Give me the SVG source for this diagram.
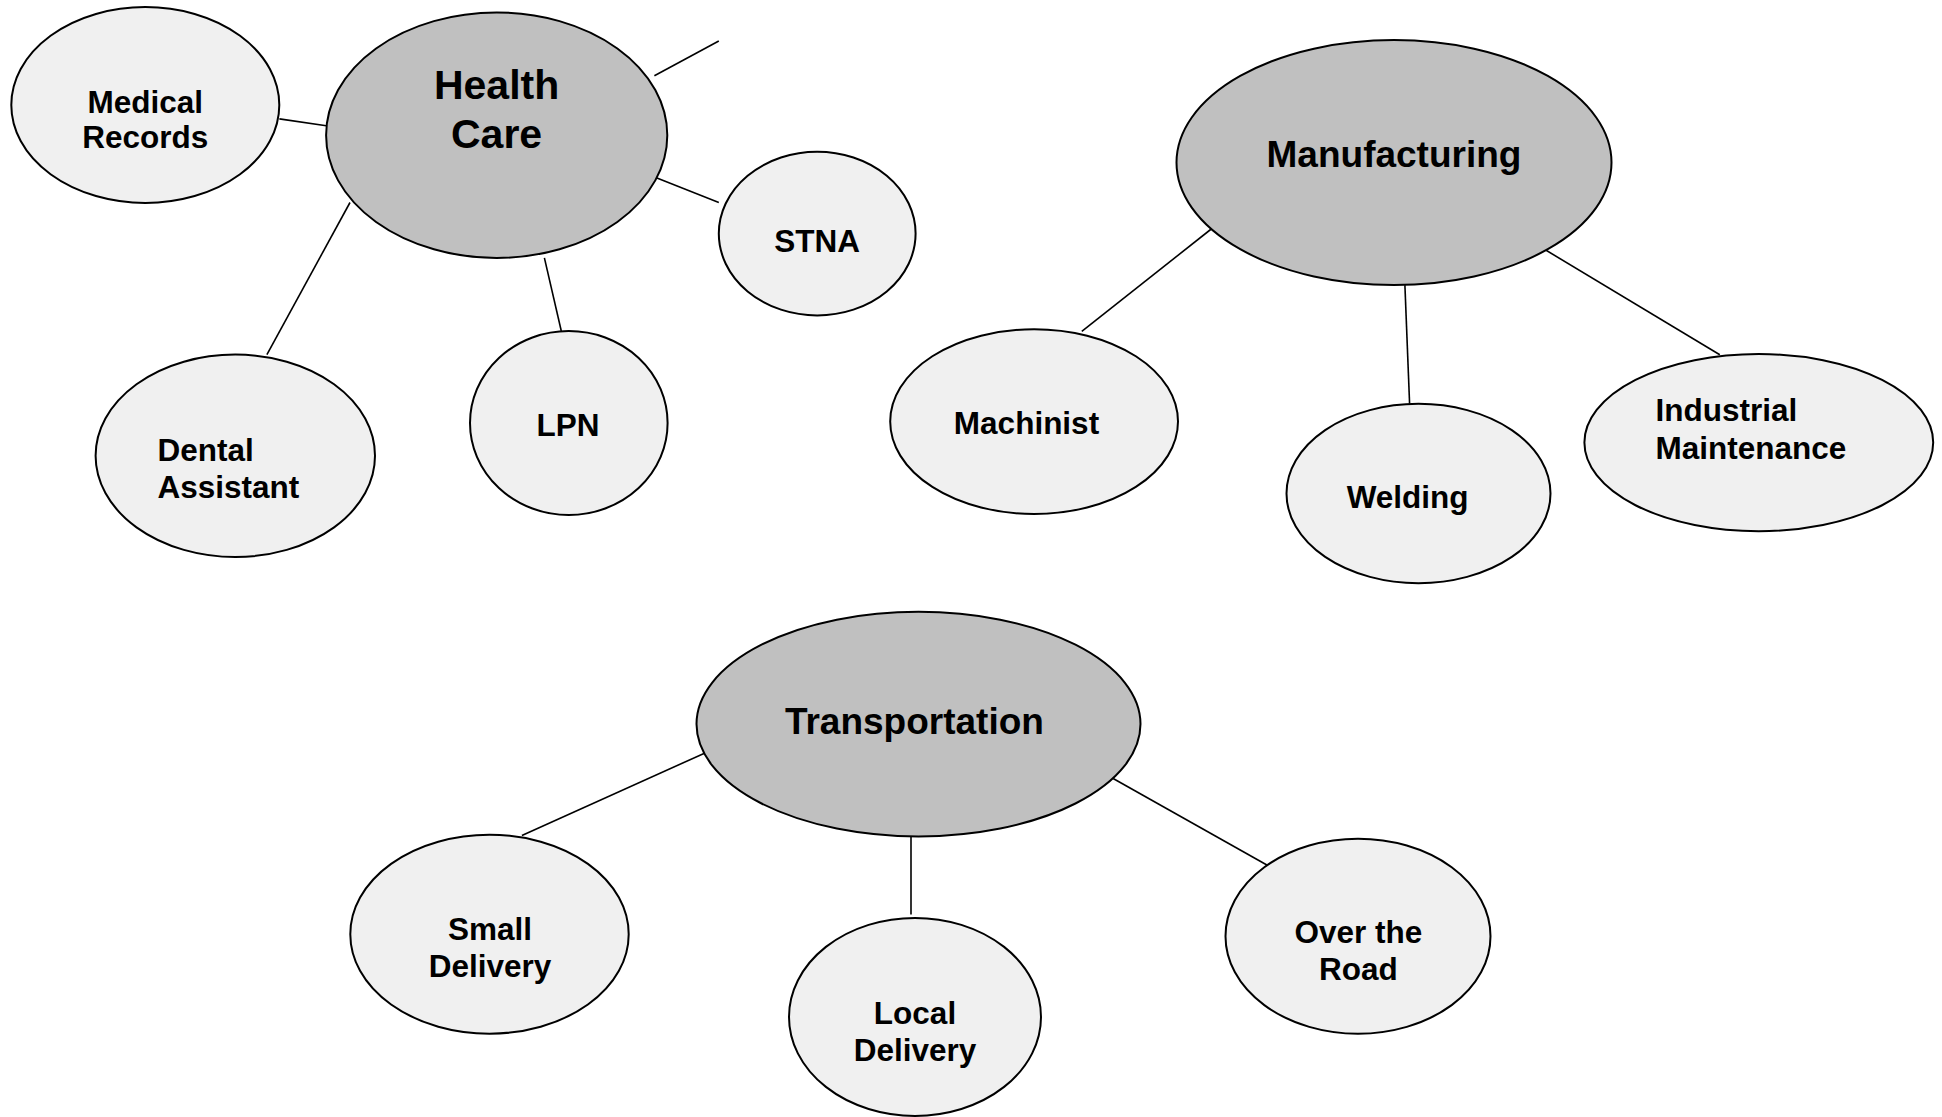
<svg xmlns="http://www.w3.org/2000/svg" width="1942" height="1117" viewBox="0 0 1942 1117">
<style>
.hub{fill:#c0c0c0;stroke:#000;stroke-width:2}
.leaf{fill:#f0f0f0;stroke:#000;stroke-width:2}
.t{font-family:"Liberation Sans",Arial,sans-serif;font-weight:bold;fill:#000}
.hl{font-size:41px}
.hm{font-size:37px}
.lf{font-size:31.5px}
.c{text-anchor:middle}
#connectors line{stroke:#000;stroke-width:1.6}
</style>
<rect width="1942" height="1117" fill="#fff"/>
<g id="connectors">
<line x1="279.4" y1="118.9" x2="326.3" y2="125.7"/>
<line x1="654.4" y1="75.7" x2="718.8" y2="41"/>
<line x1="654.4" y1="177" x2="718.8" y2="202.5"/>
<line x1="350" y1="202.5" x2="266.9" y2="354.6"/>
<line x1="544.4" y1="257.9" x2="561.3" y2="331"/>
<line x1="1211.9" y1="228.5" x2="1081.8" y2="331.4"/>
<line x1="1404.9" y1="285.1" x2="1409.6" y2="403.8"/>
<line x1="1540.3" y1="246.8" x2="1719.8" y2="354.8"/>
<line x1="712.3" y1="749.7" x2="521.9" y2="835.4"/>
<line x1="911" y1="836.4" x2="911" y2="914.4"/>
<line x1="1112.7" y1="778.2" x2="1266.9" y2="865"/>
</g>
<g id="health-care">
<ellipse class="hub" cx="496.7" cy="135.2" rx="170.6" ry="122.7"/>
<text class="t hl c" x="496.6" y="99.3">Health</text>
<text class="t hl c" x="496.6" y="148.3">Care</text>
</g>
<g id="medical-records">
<ellipse class="leaf" cx="145.3" cy="105" rx="134" ry="97.9"/>
<text class="t lf c" x="145.2" y="112.9">Medical</text>
<text class="t lf c" x="145.2" y="148.2">Records</text>
</g>
<g id="dental-assistant">
<ellipse class="leaf" cx="235.3" cy="455.8" rx="139.7" ry="101.2"/>
<text class="t lf" x="157.5" y="460.7">Dental</text>
<text class="t lf" x="157.5" y="497.5">Assistant</text>
</g>
<g id="lpn">
<ellipse class="leaf" cx="568.8" cy="423" rx="98.8" ry="92"/>
<text class="t lf c" x="568.1" y="435.7">LPN</text>
</g>
<g id="stna">
<ellipse class="leaf" cx="817.2" cy="233.6" rx="98.4" ry="81.8"/>
<text class="t lf c" x="817.2" y="251.8">STNA</text>
</g>
<g id="manufacturing">
<ellipse class="hub" cx="1394" cy="162.6" rx="217.5" ry="122.5"/>
<text class="t hm c" x="1394" y="166.5">Manufacturing</text>
</g>
<g id="machinist">
<ellipse class="leaf" cx="1034.1" cy="421.6" rx="143.9" ry="92.4"/>
<text class="t lf c" x="1026.5" y="433.6">Machinist</text>
</g>
<g id="welding">
<ellipse class="leaf" cx="1418.5" cy="493.5" rx="132" ry="89.7"/>
<text class="t lf c" x="1407.6" y="507.9">Welding</text>
</g>
<g id="industrial-maintenance">
<ellipse class="leaf" cx="1758.8" cy="442.6" rx="174.4" ry="88.6"/>
<text class="t lf" x="1655.5" y="421">Industrial</text>
<text class="t lf" x="1655.5" y="459.2">Maintenance</text>
</g>
<g id="transportation">
<ellipse class="hub" cx="918.5" cy="724.1" rx="222" ry="112.3"/>
<text class="t hm c" x="914.4" y="733.9">Transportation</text>
</g>
<g id="small-delivery">
<ellipse class="leaf" cx="489.5" cy="934.2" rx="139.2" ry="99.5"/>
<text class="t lf c" x="490" y="939.6">Small</text>
<text class="t lf c" x="490" y="976.6">Delivery</text>
</g>
<g id="local-delivery">
<ellipse class="leaf" cx="915" cy="1016.9" rx="126" ry="99"/>
<text class="t lf c" x="915" y="1023.6">Local</text>
<text class="t lf c" x="915" y="1060.6">Delivery</text>
</g>
<g id="over-the-road">
<ellipse class="leaf" cx="1358" cy="936.2" rx="132.5" ry="97.5"/>
<text class="t lf c" x="1358.3" y="943">Over the</text>
<text class="t lf c" x="1358.3" y="980">Road</text>
</g>
</svg>
